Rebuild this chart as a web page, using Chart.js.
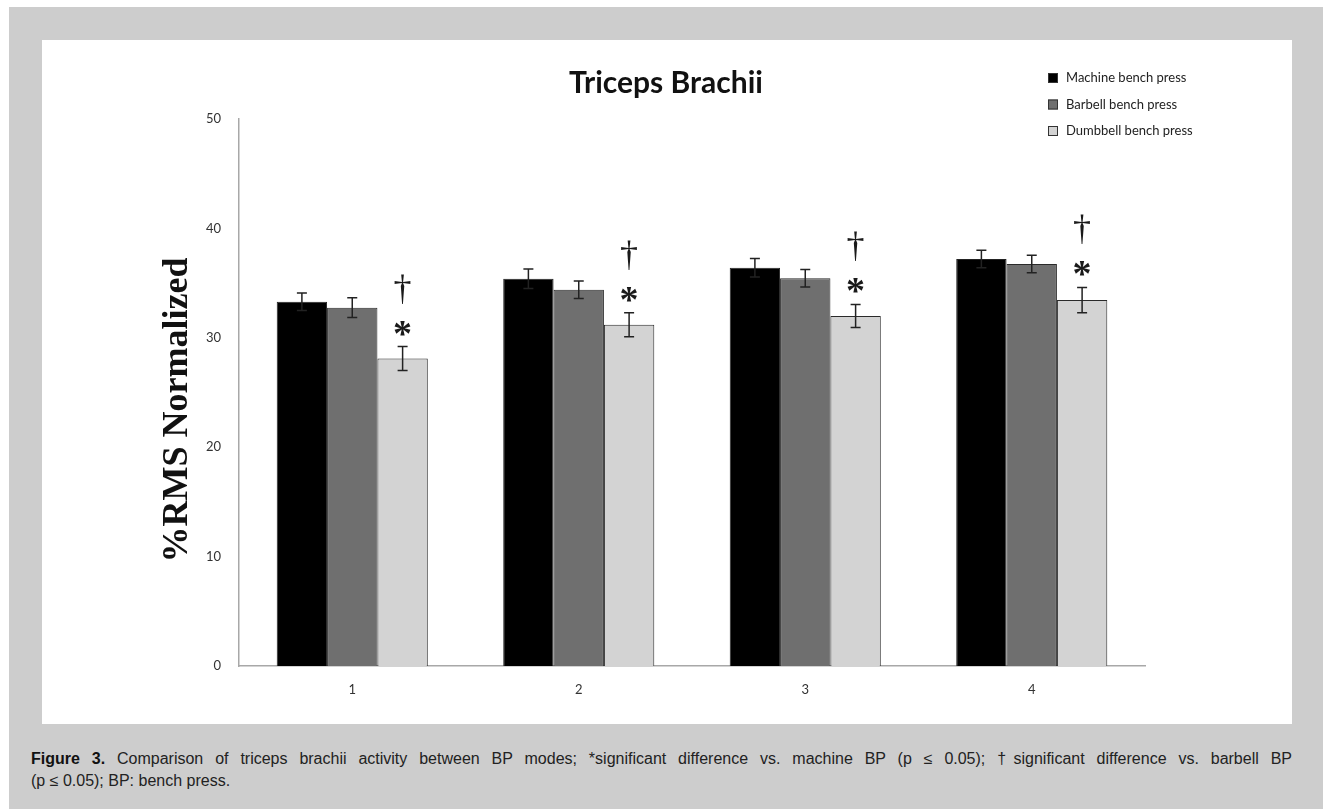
<!DOCTYPE html>
<html>
<head>
<meta charset="utf-8">
<script src="https://cdn.jsdelivr.net/npm/chart.js@4/dist/chart.umd.min.js"></script>
<style>
  html, body { margin: 0; padding: 0; }
  body { width: 1323px; height: 809px; background: #fff; position: relative; overflow: hidden; }
  #frame { position: absolute; left: 9px; top: 7px; width: 1314px; height: 802px; background: #cdcdcd; }
  #panel { position: absolute; left: 42px; top: 40px; width: 1250px; height: 684px; background: #fff; }
  #caption {
    position: absolute; left: 31px; top: 748px; width: 1261px;
    font-family: "Liberation Sans", Arial, sans-serif; font-size: 16px; line-height: 22px;
    color: #222;
  }
  #caption .full { text-align: justify; text-align-last: justify; white-space: nowrap; }
  #caption b { color: #111; }
</style>
</head>
<body>
<div id="frame"></div>
<div id="panel"><canvas id="chart" width="1250" height="684"></canvas></div>
<div id="caption">
  <div class="full"><b>Figure 3.</b> Comparison of triceps brachii activity between BP modes; *significant difference vs. machine BP (p ≤ 0.05); †significant difference vs. barbell BP</div>
  <div>(p ≤ 0.05); BP: bench press.</div>
</div>
<script>
// Measurement sets (x axis) and mean %RMS per bench press mode
const categories = ['1', '2', '3', '4'];
const machine = [33.3, 35.4, 36.4, 37.2];
const barbell = [32.75, 34.4, 35.45, 36.75];
const dumbbell = [28.1, 31.2, 32.0, 33.45];
// Standard error for each mean
const machineErr = [0.8, 0.9, 0.85, 0.8];
const barbellErr = [0.9, 0.8, 0.8, 0.8];
const dumbbellErr = [1.1, 1.1, 1.05, 1.15];
// Significance marks placed over the dumbbell bars
const vsMachine = ['*', '*', '*', '*'];
const vsBarbell = ['†', '†', '†', '†'];
const yTicks = [0, 10, 20, 30, 40, 50];
const seriesNames = ['Machine bench press', 'Barbell bench press', 'Dumbbell bench press'];
const chartTitle = 'Triceps Brachii';
const yTitle = '%RMS Normalized';

const errors = [machineErr, barbellErr, dumbbellErr];

const errorBars = {
  id: 'errorBars',
  afterDatasetsDraw(chart) {
    const ctx = chart.ctx;
    const y = chart.scales.y;
    ctx.save();
    ctx.strokeStyle = '#222';
    ctx.lineWidth = 1.5;
    chart.data.datasets.forEach((ds, i) => {
      const meta = chart.getDatasetMeta(i);
      meta.data.forEach((bar, j) => {
        const v = ds.data[j], e = errors[i][j];
        const top = y.getPixelForValue(v + e);
        const bot = y.getPixelForValue(v - e);
        const x = bar.x, cap = 5;
        ctx.beginPath();
        ctx.moveTo(x, top); ctx.lineTo(x, bot);
        ctx.moveTo(x - cap, top); ctx.lineTo(x + cap, top);
        ctx.moveTo(x - cap, bot); ctx.lineTo(x + cap, bot);
        ctx.stroke();
      });
    });
    // significance symbols above the dumbbell error bars
    const meta = chart.getDatasetMeta(2);
    meta.data.forEach((bar, j) => {
      const top = y.getPixelForValue(dumbbell[j] + dumbbellErr[j]);
      ctx.fillStyle = '#1a1a1a';
      ctx.textAlign = 'center';
      ctx.textBaseline = 'alphabetic';
      ctx.font = 'bold 38px "Liberation Serif", "DejaVu Serif", serif';
      ctx.fillText(vsMachine[j], bar.x, top - 20 + 19);
      ctx.font = '36px "Liberation Serif", "DejaVu Serif", serif';
      ctx.fillText(vsBarbell[j], bar.x, top - 57 + 10);
    });
    ctx.restore();
  }
};

const extras = {
  id: 'extras',
  afterDraw(chart) {
    const ctx = chart.ctx;
    // chart title
    ctx.save();
    ctx.fillStyle = '#111';
    ctx.font = 'bold 30px Lato, "Open Sans", sans-serif';
    ctx.textAlign = 'center';
    ctx.textBaseline = 'middle';
    ctx.fillText(chartTitle, 624, 43);
    ctx.restore();

    // vertical axis title
    ctx.save();
    ctx.translate(136, 370);
    ctx.rotate(-Math.PI / 2);
    ctx.fillStyle = '#111';
    ctx.font = 'bold 36px "Liberation Serif", "Times New Roman", serif';
    ctx.textAlign = 'center';
    ctx.textBaseline = 'middle';
    ctx.fillText(yTitle, 0, 0);
    ctx.restore();

    // legend, stacked in the upper right corner
    ctx.save();
    ctx.font = '13px Lato, "Open Sans", sans-serif';
    ctx.textBaseline = 'middle';
    ctx.textAlign = 'left';
    chart.data.datasets.forEach((ds, i) => {
      const cy = 38 + i * 26.5;
      const sx = 1006;
      ctx.fillStyle = ds.backgroundColor;
      ctx.fillRect(sx, cy - 5, 10, 10);
      ctx.strokeStyle = '#333';
      ctx.lineWidth = 1;
      ctx.strokeRect(sx + 0.5, cy - 4.5, 9, 9);
      ctx.fillStyle = '#222';
      ctx.fillText(ds.label, sx + 18, cy);
    });
    ctx.restore();
  }
};

new Chart(document.getElementById('chart'), {
  type: 'bar',
  data: {
    labels: categories,
    datasets: [
      { label: seriesNames[0], data: machine, backgroundColor: '#000000', borderColor: '#222', borderWidth: 1 },
      { label: seriesNames[1], data: barbell, backgroundColor: '#6f6f6f', borderColor: '#2a2a2a', borderWidth: 1 },
      { label: seriesNames[2], data: dumbbell, backgroundColor: '#d3d3d3', borderColor: '#2a2a2a', borderWidth: 1 }
    ]
  },
  options: {
    responsive: false,
    animation: false,
    devicePixelRatio: 1,
    layout: { padding: { left: 0, right: 147, top: 79, bottom: 0 } },
    datasets: { bar: { categoryPercentage: 0.667, barPercentage: 1.0 } },
    plugins: {
      legend: { display: false },
      tooltip: { enabled: false },
      title: { display: false }
    },
    scales: {
      x: {
        grid: { display: false, drawTicks: false },
        border: { display: true, color: '#a8a8a8', width: 1.5 },
        ticks: { color: '#333', padding: 16, font: { family: 'Lato, "Open Sans", sans-serif', size: 13 } },
        afterFit(s) { s.height = 58; }
      },
      y: {
        min: 0, max: 50,
        grid: { display: false, drawTicks: false },
        border: { display: true, color: '#a8a8a8', width: 1.5 },
        afterBuildTicks(s) { s.ticks = yTicks.map(v => ({ value: v })); },
        ticks: { color: '#333', padding: 18, font: { family: 'Lato, "Open Sans", sans-serif', size: 13 } },
        afterFit(s) { s.width = 197; }
      }
    }
  },
  plugins: [errorBars, extras]
});
</script>
</body>
</html>
